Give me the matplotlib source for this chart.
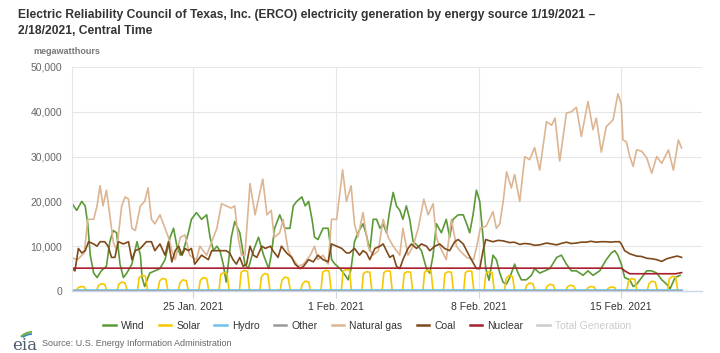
import numpy as np
import pandas as pd
import matplotlib
matplotlib.use('Agg')
import matplotlib.pyplot as plt
import matplotlib.dates as mdates
import matplotlib.ticker as mtick
from matplotlib.lines import Line2D
from matplotlib.patches import Arc

plt.rcParams['font.family'] = ['Liberation Sans', 'DejaVu Sans']

# hours after 1/19/2021 00:00 CT, generation in thousand MWh
gas = [(0, 7.5), (8, 7), (16, 8.5), (20, 16), (27, 16), (31, 19), (34.5, 23.5), (38, 19), (42, 22.5),
       (46, 17), (50, 11), (54, 9), (60, 19), (64, 21), (68, 20.5), (72, 14), (76, 13.5), (82, 19),
       (87, 20), (91, 23), (95, 16), (99, 15), (105, 17), (111, 14), (115, 12), (119, 9), (123, 7),
       (129, 12), (134.5, 12.5), (140, 8), (148, 7), (152, 10), (160, 8), (166, 11), (172, 14),
       (177.5, 19.5), (183, 19), (189, 18.5), (193, 19), (197, 12), (201, 8), (205, 8), (211, 24),
       (217, 17), (226, 25), (231, 17), (236, 18), (239.5, 12), (246, 13), (250, 16), (256, 9),
       (262, 7), (268, 5.5), (274, 6), (282, 8), (287, 10), (291, 7), (297, 8), (303, 6), (307, 16),
       (313, 16), (320, 27), (324.5, 20), (330, 23.5), (334, 15), (338, 12), (344, 17.5), (350, 10),
       (356, 8), (362, 9), (367.7, 16), (373.6, 12), (379.5, 10), (387.3, 8), (391, 14), (397, 8),
       (403, 10), (409, 14), (415.6, 20.5), (420.7, 17), (426.5, 19.5), (430.4, 12), (434.3, 10),
       (442, 7), (448, 16), (454, 10), (458, 9), (466, 7.5), (474, 7), (478, 10), (482, 14),
       (489, 14.5), (497, 17.7), (501, 14), (505, 15), (509, 20), (513, 26.6), (518.6, 23),
       (522.5, 26), (528.5, 20), (534.4, 30), (540.2, 29.3), (546, 32), (552, 27), (560, 37.8),
       (566, 37), (570, 38.6), (575.5, 29), (583.4, 39.7), (589.3, 40), (595.2, 41), (601, 34.5),
       (608.8, 42.3), (614.7, 36), (618.6, 38.6), (624.5, 31), (630.4, 36.7), (638.3, 38.2),
       (644, 44), (648, 41.8), (650, 33.7), (654, 33.3), (658, 30), (662, 27.8), (666, 31.5),
       (672, 31.2), (678, 29.7), (683.8, 26.3), (689.7, 30), (695.6, 28.5), (703.5, 31.5),
       (709.3, 27), (715.2, 33.7), (719, 31.9)]

wind = [(1.6, 19.5), (7, 18), (13, 20), (17, 19), (20, 15), (23, 8), (27, 4), (31, 3), (36, 4.5),
        (42, 5.5), (46, 11), (50, 13.5), (54, 13), (58, 6), (62, 3), (66, 4), (72, 6), (78, 11),
        (82, 8), (84, 3), (87, 1), (89, 2), (93, 4), (99, 4.5), (105, 5), (111, 7), (117, 12),
        (121, 14), (125, 10), (129, 8), (132.5, 9), (138.5, 13), (142, 16), (148, 17.5), (154, 16),
        (160, 17), (164, 12), (168, 9), (172, 10), (175.6, 9), (179.5, 6), (183, 2), (186, 7),
        (189, 12), (193, 15.5), (199, 13), (205, 6), (209, 5), (215, 9), (221, 12), (227, 8),
        (233, 5), (236, 8), (240, 14), (246, 17), (252, 14), (258, 14), (262, 19), (266, 20),
        (272, 21), (276, 19), (280, 20), (284, 16), (287, 12), (291, 11.5), (297, 14), (303, 14),
        (305, 11), (307, 7), (311, 6), (317, 5), (323, 3.5), (326.5, 2.5), (330, 5), (334, 11),
        (338, 13), (344, 15), (348, 12.5), (352, 9), (356, 16), (360, 16), (364, 14), (367.7, 15),
        (371.6, 13), (375.5, 18), (379.5, 22), (383.4, 19), (387.3, 18), (391, 16), (395, 19),
        (399, 16), (403, 11), (408.9, 10), (412.8, 9), (418.7, 5), (422.6, 4), (426.5, 8),
        (430.4, 15), (436.3, 13), (442, 16), (446, 12), (450, 16), (456, 17), (462, 17), (466, 15),
        (469.6, 13), (473.5, 17), (477.5, 22.5), (481.4, 20), (485.3, 12), (488.5, 5), (492.4, 2.4),
        (497, 8), (501, 7), (505, 4), (508.8, 2), (512.7, 1.5), (516.7, 3), (522.5, 6), (526.5, 4),
        (530.4, 2.5), (536.3, 2.5), (542.2, 3.5), (546, 5), (552, 4), (558, 4.5), (564, 5),
        (572, 7.5), (577.5, 8), (583.4, 6), (589.3, 4.5), (595.2, 4.5), (603, 3.5), (608.8, 4.5),
        (614.7, 3.5), (622.6, 4.5), (630.4, 7), (636.3, 8.5), (640.3, 9), (644, 8), (648, 6),
        (652, 3), (658, 2.5), (662, 1), (666, 1.5), (672, 3), (678, 4.5), (683.8, 4.5), (689.7, 4),
        (695.6, 2.5), (701.5, 1.5), (705.4, 0.5), (711.3, 3), (717.2, 3.5)]

coal = [(1.6, 5), (5, 4.5), (9, 9.5), (13, 8.5), (17, 9), (21, 11), (27, 10.5), (31, 10), (34.5, 11),
        (40, 11), (44, 10), (48, 7.5), (52, 7.5), (56, 11), (62, 10.5), (68, 11), (72, 7), (76, 9),
        (82, 9.5), (89, 11), (95, 11), (99, 9), (105, 10.5), (111, 8), (115, 11), (119, 6.5),
        (123, 9), (127, 10), (131, 8), (134.5, 9.5), (138.5, 9), (142, 9.5), (146, 6), (150, 7),
        (154, 8), (158, 7.5), (162, 7), (166, 9), (172, 9), (177.5, 9), (183, 9), (187, 8.5),
        (191, 7), (195, 6), (199, 7.5), (203, 5.5), (207, 6), (211, 10), (215, 8), (219, 7.5),
        (225, 10), (229, 9.5), (235, 10), (238, 9), (244, 7.5), (248, 10), (254, 8.5), (260, 7.5),
        (264, 6), (270, 5), (274, 5.5), (280, 7), (285.5, 6.5), (291, 8), (297, 7), (303, 6.5),
        (307, 10.5), (313, 10), (319, 9.5), (324.5, 8.5), (328, 8.5), (334, 9.5), (340, 8),
        (344, 9), (348, 8.5), (352, 7), (358, 9.5), (364, 10), (367.7, 10.5), (371.6, 9),
        (375.5, 7.5), (379.5, 8), (383.4, 5.5), (387.3, 5), (391, 7), (397, 9.5), (401, 10.5),
        (407, 9.5), (412.8, 10.5), (418.7, 10), (422.6, 9), (428.5, 10), (434.3, 10.5), (440, 9.5),
        (446, 9), (452, 11), (456, 11.5), (462, 10.5), (466, 9), (471.6, 7), (477.5, 5),
        (481.4, 5), (485.3, 9), (488.5, 11.5), (493, 11.2), (497, 11), (503, 11.3), (508.8, 11.2),
        (516.7, 10.8), (522, 10.9), (528.5, 10.4), (534, 10.6), (540.2, 10.5), (546, 10.2),
        (552, 10.3), (560, 10.7), (566, 10.5), (572, 10.3), (577, 10.6), (583.4, 10.9), (589, 10.6),
        (595.2, 10.7), (601, 10.9), (607, 10.9), (612, 11.1), (618.6, 10.9), (624, 11),
        (630.4, 11), (636, 10.9), (640.3, 11), (646, 11), (648, 10.5), (652, 9), (658, 8.3),
        (666, 7.8), (672, 7.7), (678, 7.3), (684, 7.2), (689.7, 7), (695.6, 6.6), (701.5, 7.2),
        (709.3, 7.6), (714, 7.8), (719, 7.5)]

nuclear = [(0, 5.1), (648, 5.1), (652, 4.5), (658, 3.85), (712, 3.85), (719, 4.1)]
hydro = [(0, 0.3), (719, 0.3)]
other = [(0, 0.1), (719, 0.1)]

# solar: one hump per day (1/19 .. 2/17), readings at 8:30, noon and 16:00
solar_am = [0.7, 1.2, 1.5, 3.0, 2.2, 1.8, 2.4, 3.6, 4.2, 3.2, 2.4, 1.5, 4.2, 4.4, 3.9,
            4.1, 3.9, 4.2, 3.9, 4.1, 3.8, 2.8, 1.2, 1.0, 0.9, 0.7, 0.6, 2.2, 1.6, 2.7]
solar_noon = [1.0, 1.6, 2.0, 3.5, 2.8, 2.5, 3.0, 4.1, 4.6, 3.9, 3.1, 2.2, 4.6, 4.8, 4.3,
              4.5, 4.3, 4.6, 4.3, 4.5, 4.3, 3.5, 1.8, 1.5, 1.3, 1.0, 0.9, 2.8, 2.2, 3.3]
solar_pm = [0.9, 1.5, 1.8, 3.3, 2.6, 2.3, 2.8, 3.9, 4.4, 3.7, 2.9, 2.0, 4.5, 4.7, 4.2,
            4.4, 4.2, 4.5, 4.2, 4.4, 4.1, 3.2, 1.6, 1.3, 1.1, 0.9, 0.8, 2.6, 2.0, 3.1]

tick_days = ['2021-01-25', '2021-02-01', '2021-02-08', '2021-02-15']
tick_labels = ['25 Jan. 2021', '1 Feb. 2021', '8 Feb. 2021', '15 Feb. 2021']

start = pd.Timestamp('2021-01-19 00:00')


def series(pairs):
    h = np.array([p[0] for p in pairs])
    v = np.array([p[1] for p in pairs]) * 1000
    return start + pd.to_timedelta(h, unit='h'), v


# solar table: dark overnight, hump during daylight
sol_h, sol_v = [0], [0]
for d in range(len(solar_noon)):
    sol_h += [24 * d + 6.5, 24 * d + 8.5, 24 * d + 12, 24 * d + 16, 24 * d + 18.5]
    sol_v += [0, solar_am[d], solar_noon[d], solar_pm[d], 0]
sol_h.append(719)
sol_v.append(0)
solar = list(zip(sol_h, sol_v))

colors = {
    'Wind': '#5b9a37', 'Solar': '#f7c800', 'Hydro': '#6cc3ea', 'Other': '#9a9a9a',
    'Natural gas': '#dcb592', 'Coal': '#80491a', 'Nuclear': '#a8202f',
    'Total Generation': '#cccccc',
}

fig = plt.figure(figsize=(7.2, 3.53), dpi=100)
ax = fig.add_axes([72 / 720, 1 - 291 / 353, 630 / 720, 224 / 353])

for name, data in [('Wind', wind), ('Solar', solar), ('Hydro', hydro), ('Other', other),
                   ('Natural gas', gas), ('Coal', coal), ('Nuclear', nuclear)]:
    t, v = series(data)
    ax.plot(t, v, color=colors[name], lw=1.2, solid_joinstyle='round')

ax.set_ylim(0, 50000)
ax.set_xlim(start + pd.Timedelta(hours=1.5), start + pd.Timedelta(hours=743))
ax.yaxis.set_major_locator(mtick.MultipleLocator(10000))
ax.yaxis.set_major_formatter(mtick.StrMethodFormatter('{x:,.0f}'))
ax.set_xticks([mdates.date2num(pd.Timestamp(d)) for d in tick_days])
ax.set_xticklabels(tick_labels)

ax.grid(True, color='#e6e6e6', lw=0.8)
ax.set_axisbelow(True)
for s in ['top', 'right']:
    ax.spines[s].set_visible(False)
ax.spines['left'].set_color('#e6e6e6')
ax.spines['bottom'].set_color('#ccd6eb')
ax.spines['bottom'].set_linewidth(1.0)
ax.tick_params(axis='y', length=0, labelsize=7.5, labelcolor='#666666', pad=7)
ax.tick_params(axis='x', length=5, color='#ccd6eb', labelsize=7.5, labelcolor='#333333', pad=3)

fig.text(18 / 720, 1 - 15 / 353,
         'Electric Reliability Council of Texas, Inc. (ERCO) electricity generation by energy source 1/19/2021 \u2013',
         fontsize=8.75, weight='bold', color='#333333', va='center')
fig.text(18 / 720, 1 - 31 / 353, '2/18/2021, Central Time',
         fontsize=8.75, weight='bold', color='#333333', va='center')
fig.text(33 / 720, 1 - 52 / 353, 'megawatthours', fontsize=6.5, weight='bold',
         color='#777777', va='center')

names = list(colors.keys())
handles = [Line2D([], [], color=colors[n], lw=1.8) for n in names]
leg = fig.legend(handles, names, loc='center', bbox_to_anchor=(0.51, 1 - 326 / 353), ncol=8,
                 frameon=False, fontsize=7.5, handlelength=1.2, handletextpad=0.5,
                 columnspacing=1.35)
for txt, n in zip(leg.get_texts(), names):
    txt.set_color('#cccccc' if n == 'Total Generation' else '#333333')

# eia logo
logo = fig.add_axes([11 / 720, 1 - 352 / 353, 30 / 720, 26 / 353])
logo.set_xlim(0, 30)
logo.set_ylim(0, 26)
logo.axis('off')
logo.text(1, 6, 'eia', fontsize=12, color='#4d5d6d', family='DejaVu Serif', va='center')
logo.add_patch(Arc((22, 8), 30, 24, theta1=95, theta2=150, color='#7bb342', lw=1.6))
logo.add_patch(Arc((22, 6), 30, 24, theta1=95, theta2=140, color='#2e86c1', lw=1.2))
fig.text(42 / 720, 1 - 343 / 353, 'Source: U.S. Energy Information Administration',
         fontsize=6.5, color='#666666', va='center')

fig.savefig('out.png', dpi=100)
